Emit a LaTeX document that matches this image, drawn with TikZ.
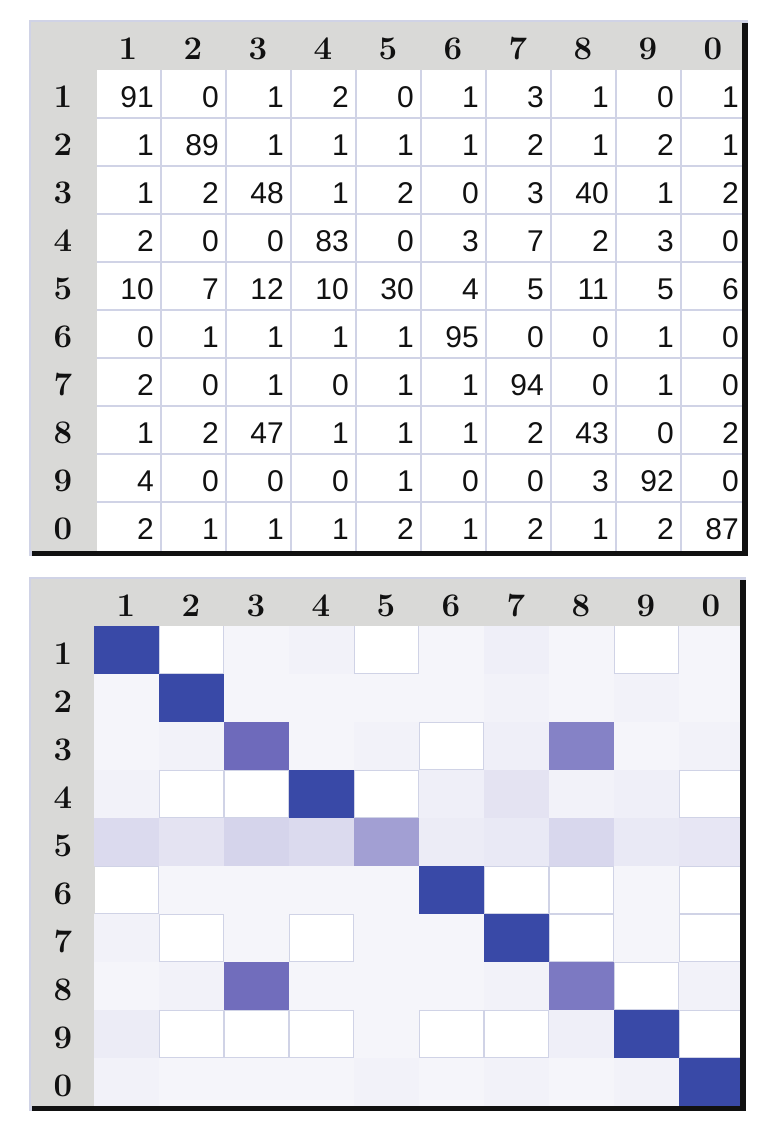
\documentclass[tikz,border=0pt]{standalone}
\usepackage{fontspec}
\newfontfamily\fontenum{Liberation Sans}
\definecolor{cinzacab}{RGB}{217,217,215}
\definecolor{lilasgrade}{RGB}{208,211,230}
\definecolor{preto}{RGB}{17,17,17}
\definecolor{azul}{RGB}{57,73,167}
\definecolor{roxo}{RGB}{110,106,187}
\begin{document}
\begin{tikzpicture}[x=1pt,y=-1pt]
\tikzstyle{numero}=[anchor=base east, inner sep=0, text=preto, font=\fontenum\fontsize{30}{30}\selectfont]
\tikzstyle{cabec}=[anchor=base, inner sep=0, text=preto, font=\fontsize{33}{33}\selectfont\bfseries]
\tikzstyle{grade}=[lilasgrade, line width=2pt]
\useasboundingbox(0,0)rectangle(770,1138);
% tabela de contagens
\fill[lilasgrade](29,20)rectangle(748,556);
\fill[cinzacab](31,22)rectangle(742,70);
\fill[cinzacab](31,22)rectangle(97,551);
\fill[white](97,70)rectangle(742,551);
\foreach \i in {1,...,9}{
\draw[grade](96+\i*65,70)--(96+\i*65,551);
\draw[grade](97,70+\i*48)--(742,70+\i*48);
}
\foreach \d [count=\c] in {1,2,3,4,5,6,7,8,9,0}{
\node[cabec](tc-\c)at(63+\c*65,59){\d};
\node[cabec](tl-\c)at(63,59+\c*48){\d};
}
\foreach \linha [count=\r] in {{91,0,1,2,0,1,3,1,0,1},{1,89,1,1,1,1,2,1,2,1},{1,2,48,1,2,0,3,40,1,2},{2,0,0,83,0,3,7,2,3,0},{10,7,12,10,30,4,5,11,5,6},{0,1,1,1,1,95,0,0,1,0},{2,0,1,0,1,1,94,0,1,0},{1,2,47,1,1,1,2,43,0,2},{4,0,0,0,1,0,0,3,92,0},{2,1,1,1,2,1,2,1,2,87}}{
\foreach \v [count=\c] in \linha{
\node[numero](t-\r-\c)at(89+\c*65,59.5+\r*48){\v};
}}
\fill[preto](742,23)rectangle(748,556);
\fill[preto](32,550.5)rectangle(748,556);
% mapa de cores
\fill[lilasgrade](29,577)rectangle(746,1111);
\fill[cinzacab](31,579)rectangle(740,626);
\fill[cinzacab](31,579)rectangle(95,1106);
\fill[white](95,626)rectangle(740,1106);
\foreach \i in {1,...,9}{
\draw[grade](94+\i*65,626)--(94+\i*65,1106);
\draw[grade](95,626+\i*48)--(740,626+\i*48);
}
\foreach \d [count=\c] in {1,2,3,4,5,6,7,8,9,0}{
\node[cabec](mc-\c)at(61+\c*65,616){\d};
\node[cabec](ml-\c)at(63,616+\c*48){\d};
}
\foreach \linha [count=\r] in {{91,0,1,2,0,1,3,1,0,1},{1,89,1,1,1,1,2,1,2,1},{1,2,48,1,2,0,3,40,1,2},{2,0,0,83,0,3,7,2,3,0},{10,7,12,10,30,4,5,11,5,6},{0,1,1,1,1,95,0,0,1,0},{2,0,1,0,1,1,94,0,1,0},{1,2,47,1,1,1,2,43,0,2},{4,0,0,0,1,0,0,3,92,0},{2,1,1,1,2,1,2,1,2,87}}{
\foreach \v [count=\c] in \linha{
\ifnum\v>0
\ifnum\v>48 \pgfmathsetmacro\q{min(100,(\v-48)*100/14)}\edef\cor{azul!\q!roxo}%
\else \pgfmathsetmacro\q{5+\v*95/48}\edef\cor{roxo!\q!white}\fi
\fill[fill=\cor](29+\c*65,578+\r*48)rectangle(94+\c*65,626+\r*48);
\fi
}}
\fill[preto](740,580)rectangle(746,1111);
\fill[preto](32,1106)rectangle(746,1111);
\end{tikzpicture}
\end{document}
